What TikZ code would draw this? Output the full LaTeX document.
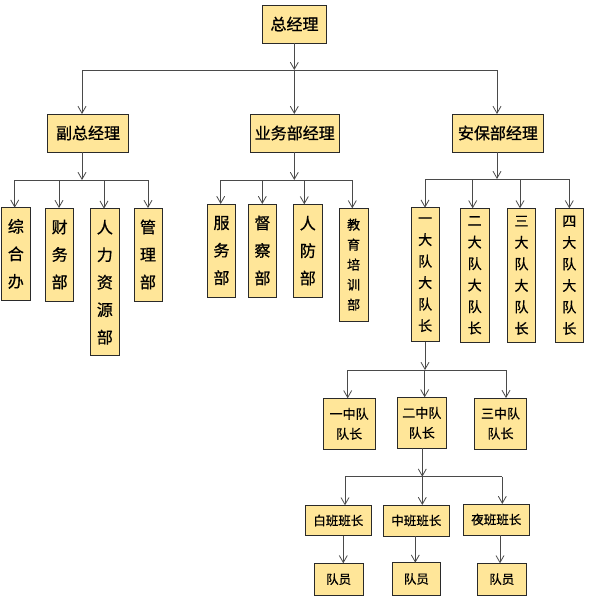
\documentclass[tikz,border=0pt]{standalone}
\usepackage{fontspec}
\setmainfont{Noto Sans CJK SC}[FakeBold=0.8]
\usetikzlibrary{arrows.meta}
\definecolor{boxfill}{HTML}{FFE699}
\definecolor{boxline}{HTML}{2A2A2A}
\definecolor{edge}{HTML}{4A4A4A}
\tikzset{
  box/.style={draw=boxline, fill=boxfill, line width=0.9pt, inner sep=0pt, outer sep=0pt, align=center},
  arr/.style={draw=edge, line width=0.8pt, -{Straight Barb[length=7pt,width=8pt,line width=0.8pt]}},
  barline/.style={draw=edge, line width=0.9pt},
  fbig/.style={font=\fontsize{16}{18}\selectfont},
  fcol/.style={font=\fontsize{16}{27.5}\selectfont},
  fdd/.style={font=\fontsize{14}{21.5}\selectfont},
  fjy/.style={font=\fontsize{13}{20}\selectfont},
  fzd/.style={font=\fontsize{13}{20}\selectfont},
  fsm/.style={font=\fontsize{12.5}{14}\selectfont},
}
% \bx{name}{x1}{x2}{y1}{y2}{style}{text}
\newcommand\bx[7]{\node[box,#6,minimum width={#3-#2},minimum height={#5-#4}] (#1) at ({(#2+#3)/2},{(#4+#5)/2}) {#7};}
% \dn{junction}{x}{y}{child}
\newcommand\dn[4]{\coordinate (#1) at (#2,#3); \draw[arr] (#1) -- (#1 |- #4.north);}
% \up{junction}{x}{y}{parent}
\newcommand\up[4]{\coordinate (#1) at (#2,#3); \draw[arr] (#1 |- #4.south) -- (#1);}
% \link{junction}{x}{parent}{child}
\newcommand\link[4]{\coordinate (#1) at (#2,0); \draw[arr] (#1 |- #3.south) -- (#1 |- #4.north);}
\begin{document}
\begin{tikzpicture}[x=1pt,y=-1pt]
\useasboundingbox (0,0) rectangle (590,598);
% level 0
\bx{zjl}{262.3}{326.7}{5}{43}{fbig}{总经理}
% level 1
\bx{fz}{47.4}{128.7}{114}{152}{fbig}{副总经理}
\bx{yw}{250}{339.5}{114}{152}{fbig}{业务部经理}
\bx{ab}{452.4}{543.5}{114}{152}{fbig}{安保部经理}
% level 2
\bx{zhb}{1.7}{30}{207.7}{300}{fcol}{综\\合\\办}
\bx{cwb}{45.7}{73.7}{208}{301}{fcol}{财\\务\\部}
\bx{rl}{90.7}{119}{208.7}{355.7}{fcol}{人\\力\\资\\源\\部}
\bx{gl}{134}{162}{208}{301}{fcol}{管\\理\\部}
\bx{fw}{207.3}{235.7}{204}{297}{fcol}{服\\务\\部}
\bx{dc}{248.3}{276.7}{204}{297}{fcol}{督\\察\\部}
\bx{rf}{293.3}{322.3}{204.3}{297}{fcol}{人\\防\\部}
\bx{jy}{339.3}{368}{208.3}{321}{fjy}{教\\育\\培\\训\\部}
\bx{d1}{411}{439.3}{207.7}{341.7}{fdd}{一\\大\\队\\大\\队\\长}
\bx{d2}{460.3}{489}{208.3}{342.3}{fdd}{二\\大\\队\\大\\队\\长}
\bx{d3}{507.3}{535.7}{208.3}{342.3}{fdd}{三\\大\\队\\大\\队\\长}
\bx{d4}{555.3}{583.3}{208.3}{342.3}{fdd}{四\\大\\队\\大\\队\\长}
% level 3
\bx{z1}{323.3}{375}{398.3}{449.3}{fzd}{一中队\\队长}
\bx{z2}{397.3}{446.3}{397.3}{448.3}{fzd}{二中队\\队长}
\bx{z3}{474.7}{526.3}{398}{449}{fzd}{三中队\\队长}
% level 4
\bx{b1}{305.3}{371.3}{505.3}{535.7}{fsm}{白班班长}
\bx{b2}{383.3}{449.3}{505}{536}{fsm}{中班班长}
\bx{b3}{463.3}{529.3}{504}{535}{fsm}{夜班班长}
% level 5
\bx{y1}{314.3}{363}{563.3}{595}{fsm}{队员}
\bx{y2}{392}{440.7}{562.7}{595}{fsm}{队员}
\bx{y3}{477.3}{526.3}{563.3}{595}{fsm}{队员}

% connectors: top
\up{t0}{294.3}{70}{zjl}
\dn{t1}{82}{70}{fz}
\dn{t2}{294.3}{70}{yw}
\dn{t3}{497}{70}{ab}
\draw[barline] (t1) -- (t3);
% 副总经理
\up{a0}{82}{180}{fz}
\dn{a1}{14.7}{180}{zhb}
\dn{a2}{59}{180}{cwb}
\dn{a3}{104}{180}{rl}
\dn{a4}{148}{180}{gl}
\draw[barline] (a1) -- (a4);
% 业务部经理
\up{c0}{294.3}{180}{yw}
\dn{c1}{220.7}{180}{fw}
\dn{c2}{262.3}{180}{dc}
\dn{c3}{304.3}{180}{rf}
\dn{c4}{352.3}{180}{jy}
\draw[barline] (c1) -- (c4);
% 安保部经理
\up{e0}{497}{179}{ab}
\dn{e1}{425}{179}{d1}
\dn{e2}{472.7}{179}{d2}
\dn{e3}{520}{179}{d3}
\dn{e4}{569.3}{179}{d4}
\draw[barline] (e1) -- (e4);
% 一大队
\up{f0}{425}{370}{d1}
\dn{f1}{347.7}{370}{z1}
\dn{f2}{424.7}{370}{z2}
\dn{f3}{506}{370}{z3}
\draw[barline] (f1) -- (f3);
% 二中队
\up{g0}{422.3}{476.7}{z2}
\dn{g1}{345}{476.7}{b1}
\dn{g2}{422.3}{476.7}{b2}
\dn{g3}{502.3}{476.7}{b3}
\draw[barline] (g1) -- (g3);
% 班长 -> 队员
\link{h1}{343.3}{b1}{y1}
\link{h2}{415.3}{b2}{y2}
\link{h3}{500}{b3}{y3}
\end{tikzpicture}
\end{document}
